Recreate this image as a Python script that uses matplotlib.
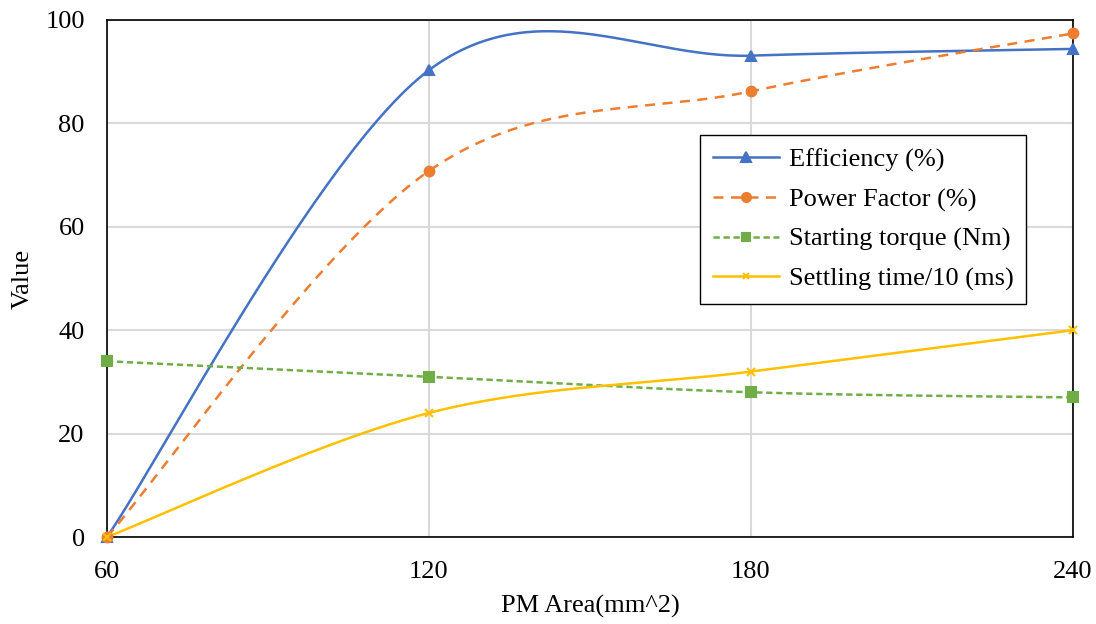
import numpy as np
import matplotlib
matplotlib.use("Agg")
import matplotlib.pyplot as plt

plt.rcParams['font.family'] = ['Liberation Serif', 'DejaVu Serif']

pm_area = [60, 120, 180, 240]
efficiency = [0, 90.3, 93.1, 94.4]
power_factor = [0, 70.8, 86.2, 97.4]
start_torque = [34, 31, 28, 27]
settling = [0, 24, 32, 40]


def smooth(xs, ys, n=60):
    # bezier smoothing like excel's "smoothed line"
    p = np.column_stack([xs, ys]).astype(float)
    out = []
    for i in range(len(p) - 1):
        p0 = p[i - 1] if i > 0 else p[i]
        p1, p2 = p[i], p[i + 1]
        p3 = p[i + 2] if i + 2 < len(p) else p[i + 1]
        c1 = p1 + (p2 - p0) / 6
        c2 = p2 - (p3 - p1) / 6
        t = np.linspace(0, 1, n)[:, None]
        seg = (1 - t) ** 3 * p1 + 3 * (1 - t) ** 2 * t * c1 + 3 * (1 - t) * t ** 2 * c2 + t ** 3 * p2
        out.append(seg if i == 0 else seg[1:])
    out = np.vstack(out)
    return out[:, 0], out[:, 1]


fig = plt.figure(figsize=(10.96, 6.24), dpi=100)
ax = fig.add_axes([0.0976, 0.1394, 0.8814, 0.8286])

series = [
    (efficiency, "Efficiency (%)", "#4472C4", "-", "^", 7),
    (power_factor, "Power Factor (%)", "#ED7D31", (0, (4, 3)), "o", 7),
    (start_torque, "Starting torque (Nm)", "#70AD47", (0, (2.5, 1.5)), "s", 6.5),
    (settling, "Settling time/10 (ms)", "#FFC000", "-", "x", 5.5),
]

for ys, lab, col, ls, mk, ms in series:
    sx, sy = smooth(pm_area, ys)
    ax.plot(sx, sy, color=col, linestyle=ls, lw=1.8)
    ax.plot(pm_area, ys, linestyle="none", marker=mk, color=col, ms=ms, mew=1.5, clip_on=False, zorder=3)
    # legend proxy
    ax.plot([], [], color=col, linestyle=ls, lw=1.8, marker=mk, ms=ms - 0.5, mew=1.5, label=lab)

ax.set_xlim(60, 240)
ax.set_ylim(0, 100)
ax.set_xticks(pm_area)
ax.set_yticks(range(0, 101, 20))
ax.grid(True, color="#D9D9D9", lw=1.5)
ax.set_axisbelow(True)
ax.tick_params(length=0, labelsize=19)
ax.tick_params(axis="y", pad=16)
ax.tick_params(axis="x", pad=17)
for s in ax.spines.values():
    s.set_color("black")
    s.set_linewidth(1.2)

ax.set_xlabel("PM Area(mm^2)", fontsize=19, labelpad=9)
ax.set_ylabel("Value", fontsize=19, labelpad=8)

leg = ax.legend(loc="upper left", bbox_to_anchor=(0.614, 0.778), fontsize=19,
                frameon=True, fancybox=False, edgecolor="black", framealpha=1,
                handlelength=2.5, handletextpad=0.35, borderpad=0.5,
                labelspacing=0.6, borderaxespad=0)
leg.get_frame().set_linewidth(1.0)

fig.savefig("out.png", dpi=100)
